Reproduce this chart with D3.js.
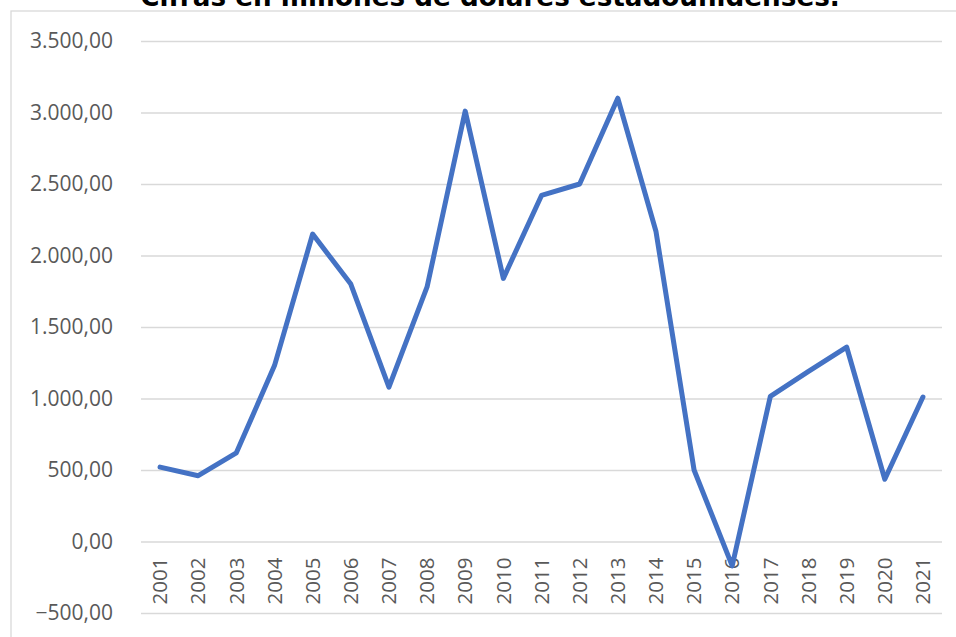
<!DOCTYPE html>
<html><head><meta charset="utf-8">
<script src="https://cdn.jsdelivr.net/npm/d3@7"></script>
<style>body{margin:0;background:#fff;overflow:hidden}</style>
</head><body>
<svg id="c" width="956" height="637"></svg>
<script>
const years = ["2001","2002","2003","2004","2005","2006","2007","2008","2009","2010","2011","2012","2013","2014","2015","2016","2017","2018","2019","2020","2021"];
const values = [520, 460, 620, 1230, 2150, 1800, 1080, 1780, 3010, 1840, 2420, 2500, 3100, 2170, 500, -170, 1015, 1190, 1360, 435, 1010];
const yTicks = [-500, 0, 500, 1000, 1500, 2000, 2500, 3000, 3500];
const title = "Cifras en millones de dólares estadounidenses.";

(function () {
const svg = d3.select("#c");
const pL = 141, pR = 942, pT = 41, pB = 613;
const x = d3.scaleBand().domain(years).range([pL, pR]);
const y = d3.scaleLinear().domain([-500, 3500]).range([pB, pT]);
const fmt = v => d3.format(",.2f")(v).replace(/,/g, "X").replace(/\./g, ",").replace(/X/g, ".");

// frame
svg.append("rect").attr("x", 11).attr("y", 11).attr("width", 1000).attr("height", 700)
  .attr("fill", "none").attr("stroke", "#d9d9d9").attr("stroke-width", 1.3);

// title
const t = svg.append("text").attr("x", 490).attr("y", 6).attr("text-anchor", "middle")
  .attr("font-family", "DejaVu Sans").attr("font-weight", "bold").attr("font-size", 22)
  .attr("fill", "#000").text(title);
const tl = t.node().getComputedTextLength();
t.attr("font-size", 22 * 700 / tl);

// gridlines + y labels
const yAxis = d3.axisLeft(y).tickValues(yTicks).tickSize(-(pR - pL)).tickFormat(fmt).tickPadding(28);
const gy = svg.append("g").attr("transform", `translate(${pL},0)`).call(yAxis);
gy.select(".domain").remove();
gy.selectAll(".tick line").attr("stroke", "#d9d9d9").attr("stroke-width", 1.5);
gy.selectAll(".tick text").attr("font-family", "Open Sans").attr("font-size", 21).attr("fill", "#595959");

// x labels
const xAxis = d3.axisBottom(x).tickSize(0).tickPadding(0);
const gx = svg.append("g").attr("transform", `translate(0,${y(0)})`).call(xAxis);
gx.select(".domain").remove();
gx.selectAll(".tick text")
  .attr("font-family", "Open Sans").attr("font-size", 20.5).attr("fill", "#595959")
  .attr("text-anchor", "end").attr("transform", "rotate(-90)")
  .attr("x", -16).attr("y", 0).attr("dy", "0.35em");

// line
const line = d3.line().x((d, i) => x(years[i]) + x.bandwidth() / 2).y(d => y(d));
svg.append("path").datum(values).attr("d", line).attr("fill", "none")
  .attr("stroke", "#4472C4").attr("stroke-width", 5)
  .attr("stroke-linejoin", "round").attr("stroke-linecap", "round");
})();
</script>
</body></html>
